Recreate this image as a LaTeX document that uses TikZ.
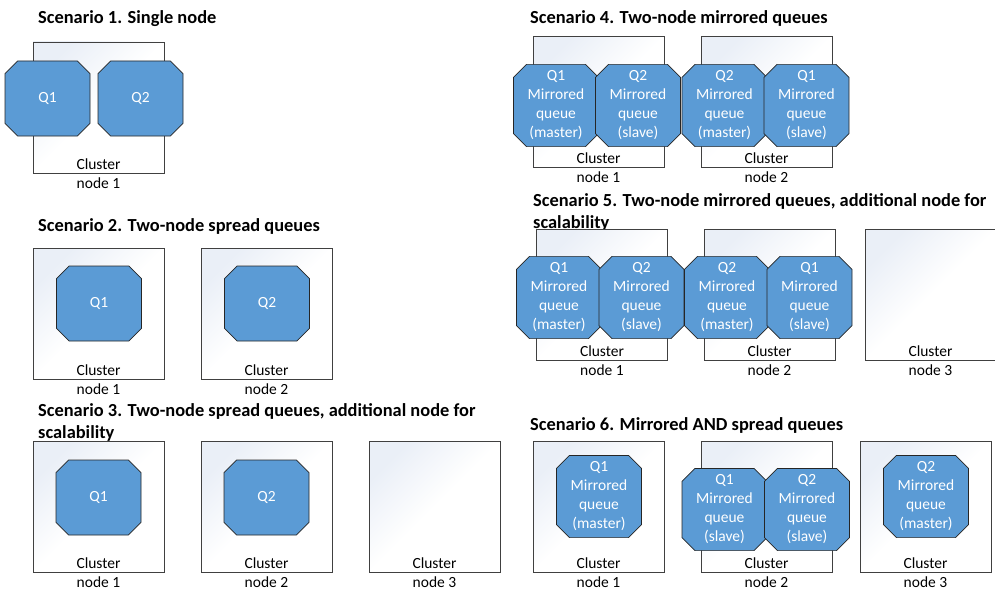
\documentclass[tikz,border=0pt]{standalone}
\usepackage{fontspec}
\setmainfont{Carlito}
\usetikzlibrary{shapes.misc}
\definecolor{qblue}{HTML}{5B9BD5}
\definecolor{boxtint}{HTML}{EAEFF7}
\begin{document}
\begin{tikzpicture}[x=1pt, y=-1pt,
    font=\fontsize{15.5}{19}\selectfont,
    cluster/.style={draw=black!75, line width=0.9pt, minimum width=131pt, minimum height=131pt, inner sep=0pt,
      top color=boxtint, bottom color=white, middle color=white, shading angle=45},
    queue/.style={chamfered rectangle, chamfered rectangle xsep=6.5pt, chamfered rectangle ysep=6.5pt,
      draw=black!85, line width=0.7pt, fill=qblue, text=white, minimum width=85pt, minimum height=75pt,
      inner sep=0pt, align=center},
    heading/.style={anchor=base west, inner sep=0pt, align=left, font=\fontsize{18.4}{22}\selectfont\bfseries},
    cluslabel/.style={inner sep=0pt, align=center}]
    \useasboundingbox (0,0) rectangle (995,591);

    \node[heading] (tone) at (38,24) {Scenario 1. Single node};
    \node[heading] (ttwo) at (38,231.5) {Scenario 2. Two-node spread queues};
    \node[heading] (tthree) at (38,438) {Scenario 3. Two-node spread queues, additional node for\\scalability};
    \node[heading] (tfour) at (530,24) {Scenario 4. Two-node mirrored queues};
    \node[heading] (tfive) at (533,228) {Scenario 5. Two-node mirrored queues, additional node for\\scalability};
    \node[heading] (tsix) at (530,430) {Scenario 6. Mirrored AND spread queues};

    \node[cluster] (aone) at (98.5,107.5) {};
    \node[cluster] (bone) at (98.5,313.5) {};
    \node[cluster] (btwo) at (266.5,313.5) {};
    \node[cluster] (cone) at (98.5,507) {};
    \node[cluster] (ctwo) at (266.5,507) {};
    \node[cluster] (cthree) at (434.5,507) {};
    \node[cluster] (done) at (598.5,102) {};
    \node[cluster] (dtwo) at (766.5,102) {};
    \node[cluster] (eone) at (602,295) {};
    \node[cluster] (etwo) at (769.5,295) {};
    \node[cluster] (ethree) at (930.5,295) {};
    \node[cluster] (fone) at (598.5,506.5) {};
    \node[cluster] (ftwo) at (766.5,506.5) {};
    \node[cluster] (fthree) at (925.5,506.5) {};

    \node[cluslabel] (aonelbl) at (aone.south) {Cluster\\node 1};
    \node[cluslabel] (bonelbl) at (bone.south) {Cluster\\node 1};
    \node[cluslabel] (btwolbl) at (btwo.south) {Cluster\\node 2};
    \node[cluslabel] (conelbl) at (cone.south) {Cluster\\node 1};
    \node[cluslabel] (ctwolbl) at (ctwo.south) {Cluster\\node 2};
    \node[cluslabel] (cthreelbl) at (cthree.south) {Cluster\\node 3};
    \node[cluslabel] (donelbl) at (done.south) {Cluster\\node 1};
    \node[cluslabel] (dtwolbl) at (dtwo.south) {Cluster\\node 2};
    \node[cluslabel] (eonelbl) at (eone.south) {Cluster\\node 1};
    \node[cluslabel] (etwolbl) at (etwo.south) {Cluster\\node 2};
    \node[cluslabel] (ethreelbl) at (ethree.south) {Cluster\\node 3};
    \node[cluslabel] (fonelbl) at (fone.south) {Cluster\\node 1};
    \node[cluslabel] (ftwolbl) at (ftwo.south) {Cluster\\node 2};
    \node[cluslabel] (fthreelbl) at (fthree.south) {Cluster\\node 3};

    \node[queue] (aqone) at (47.5,98.5) {Q1};
    \node[queue] (aqtwo) at (140.5,98.5) {Q2};
    \node[queue] (bqone) at (99,303.5) {Q1};
    \node[queue] (bqtwo) at (267,303.5) {Q2};
    \node[queue] (cqone) at (98.5,497.5) {Q1};
    \node[queue] (cqtwo) at (266.5,497.5) {Q2};

    \node[queue] (donemaster) at (556,105.5) {Q1\\Mirrored\\queue\\(master)};
    \node[queue] (doneslave) at (638,105.5) {Q2\\Mirrored\\queue\\(slave)};
    \node[queue] (dtwomaster) at (724.5,105.5) {Q2\\Mirrored\\queue\\(master)};
    \node[queue] (dtwoslave) at (806.5,105.5) {Q1\\Mirrored\\queue\\(slave)};

    \node[queue] (eonemaster) at (559,297.5) {Q1\\Mirrored\\queue\\(master)};
    \node[queue] (eoneslave) at (641.5,297.5) {Q2\\Mirrored\\queue\\(slave)};
    \node[queue] (etwomaster) at (727,297.5) {Q2\\Mirrored\\queue\\(master)};
    \node[queue] (etwoslave) at (809.5,297.5) {Q1\\Mirrored\\queue\\(slave)};

    \node[queue] (fonemaster) at (599,496.5) {Q1\\Mirrored\\queue\\(master)};
    \node[queue] (ftwoslaveone) at (724.5,509.5) {Q1\\Mirrored\\queue\\(slave)};
    \node[queue] (ftwoslavetwo) at (807,509.5) {Q2\\Mirrored\\queue\\(slave)};
    \node[queue] (fthreemaster) at (926,496.5) {Q2\\Mirrored\\queue\\(master)};
\end{tikzpicture}
\end{document}
